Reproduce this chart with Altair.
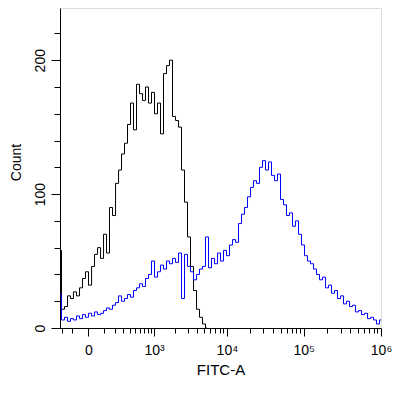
import altair as alt
import pandas as pd

# FITC-A bin positions (data units) shared by both histograms
FITC = [-217, -184, -155, -127, -103, -80, -59, -40, -22, -7,
        9, 25, 42, 62, 83, 106, 131, 158, 189, 222,
        258, 297, 340, 387, 439, 495, 557, 624, 697, 778,
        866, 962, 1067, 1183, 1308, 1446, 1596, 1761, 1941, 2138,
        2353, 2588, 2845, 3126, 3434, 3770, 4138, 4540, 4979, 5460,
        5985, 6560, 7188, 7876, 8627, 9448, 10347, 11329, 12403, 13578,
        14862, 16266, 17801, 19480, 21315, 23322, 25515, 27914, 30538, 33405,
        36545, 39974, 43726, 47827, 52311, 57213, 62576, 68442, 74864, 81875,
        89542, 97926, 107092, 117116, 128076, 140061, 153169, 167493, 183155, 200293,
        219022, 239506, 261908, 286393, 313174, 342465, 374478, 409491, 447769, 489638,
        535410, 585463, 640190, 700034, 765470, 837023, 915268, 1000000]

# control (black) counts for the first bins
BLACK = [58, 14, 16, 24, 22, 27, 24, 30, 37, 42,
         32, 46, 55, 60, 52, 70, 56, 90, 84, 108,
         118, 130, 138, 152, 168, 148, 182, 175, 170, 180,
         168, 176, 160, 168, 145, 190, 196, 200, 158, 155,
         150, 118, 94, 68, 46, 28, 14, 8, 3, 0]

# stained (blue) counts
BLUE = [25, 6, 8, 5, 7, 6, 9, 7, 10, 8,
        11, 9, 12, 10, 11, 13, 15, 14, 17, 19,
        24, 20, 22, 25, 23, 28, 30, 33, 31, 37,
        40, 50, 38, 42, 47, 44, 50, 48, 52, 49,
        56, 22, 55, 46, 42, 36, 40, 44, 46, 68,
        45, 52, 48, 56, 50, 58, 54, 62, 66, 64,
        78, 85, 90, 98, 105, 110, 108, 120, 125, 118,
        124, 114, 110, 115, 96, 92, 84, 86, 76, 80,
        70, 62, 54, 50, 48, 44, 40, 36, 38, 30,
        32, 26, 28, 22, 24, 18, 20, 16, 17, 12,
        13, 10, 11, 7, 8, 6, 3, 6]

MAJOR_X = [0, 1000, 10000, 100000, 1000000]
MAJOR_X_LABELS = ["0", "10³", "10⁴", "10⁵", "10⁶"]
MINOR_X = [-200, -100,
           100, 200, 300, 400, 500, 600, 700, 800, 900,
           2000, 3000, 4000, 5000, 6000, 7000, 8000, 9000,
           20000, 30000, 40000, 50000, 60000, 70000, 80000, 90000,
           200000, 300000, 400000, 500000, 600000, 700000, 800000, 900000]
Y_TICKS = [0, 20, 40, 60, 80, 100, 120, 140, 160, 180, 200, 220]
Y_LABELED = [0, 100, 200]

rows = []
for i, x in enumerate(FITC):
    if i < len(BLACK):
        rows.append({"x": x, "count": BLACK[i], "series": "control"})
    rows.append({"x": x, "count": BLUE[i], "series": "stained"})
df = pd.DataFrame(rows)

x_label_expr = "''"
for v, lab in reversed(list(zip(MAJOR_X, MAJOR_X_LABELS))):
    x_label_expr = f"datum.value == {v} ? '{lab}' : ({x_label_expr})"
x_major_test = " || ".join(f"datum.value == {v}" for v in MAJOR_X)
y_major_test = " || ".join(f"datum.value == {v}" for v in Y_LABELED)

FONT = "Liberation Sans"

chart = alt.Chart(df).mark_line(interpolate="step", strokeWidth=1, clip=True).encode(
    x=alt.X("x:Q",
            scale=alt.Scale(type="symlog", constant=164, domain=[-217, 1000000], nice=False, zero=False),
            axis=alt.Axis(values=MAJOR_X + MINOR_X, labelExpr=x_label_expr,
                          tickSize={"condition": {"test": x_major_test, "value": 8}, "value": 5},
                          labelOverlap=False, labelBound=False, labelFlush=False,
                          grid=False, title="FITC-A", labelFont=FONT, titleFont=FONT,
                          labelFontSize=14, titleFontSize=15, titleFontWeight="normal",
                          labelPadding=7, titlePadding=5, domainColor="black", tickColor="black",
                          labelColor="black", titleColor="black")),
    y=alt.Y("count:Q",
            scale=alt.Scale(domain=[0, 239], nice=False),
            axis=alt.Axis(values=Y_TICKS,
                          labelExpr=f"({y_major_test}) ? datum.label : ''",
                          tickSize={"condition": {"test": y_major_test, "value": 9}, "value": 6},
                          labelOverlap=False, labelBound=False, labelFlush=False,
                          labelAngle=270, labelAlign="center", labelBaseline="alphabetic",
                          grid=False, title="Count", labelFont=FONT, titleFont=FONT,
                          labelFontSize=14, titleFontSize=14, titleFontWeight="normal",
                          labelPadding=7, titleAngle=270, titleAlign="center",
                          titleBaseline="alphabetic", titleX=-40, titleY=154,
                          domainColor="black", tickColor="black",
                          labelColor="black", titleColor="black")),
    color=alt.Color("series:N", scale=alt.Scale(domain=["control", "stained"], range=["#000000", "#0000ff"]),
                    legend=None),
    order=alt.Order("x:Q"),
).properties(
    width=321, height=320,
    autosize=alt.AutoSizeParams(type="none"),
    padding={"left": 52, "top": 0, "right": 17, "bottom": 58},
).configure_view(stroke="black", strokeWidth=1).configure(background="white")

chart.save("out.html", embed_options={"renderer": "svg", "actions": False})
